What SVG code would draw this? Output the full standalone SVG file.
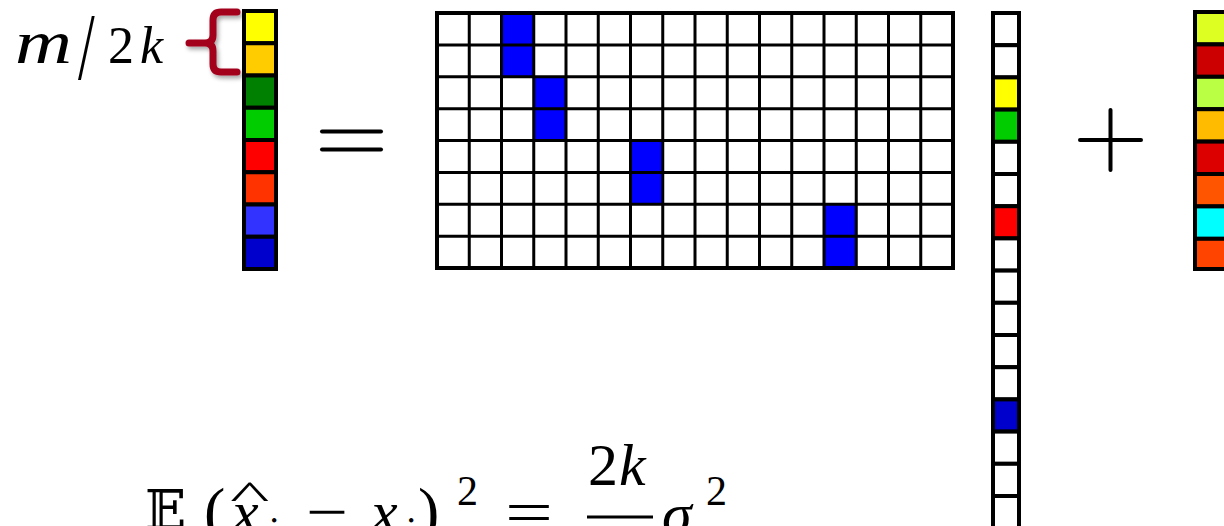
<svg xmlns="http://www.w3.org/2000/svg" width="1224" height="526" viewBox="0 0 1224 526">
<defs>
<style>
.c{stroke:#000;stroke-width:4}
.op{stroke:#000;stroke-width:4;stroke-linecap:round;fill:none}
</style>
<filter id="sh" x="-30%" y="-30%" width="160%" height="160%">
<feDropShadow dx="2" dy="3" stdDeviation="2" flood-color="#000" flood-opacity="0.35"/>
</filter>
</defs>
<rect width="1224" height="526" fill="#fff"/>

<g id="label-m2k" font-family="'Liberation Serif', 'Times New Roman', serif" fill="#000">
<text x="15" y="63" font-size="62" font-style="italic" textLength="57" lengthAdjust="spacingAndGlyphs">m</text>
<text x="0" y="0" font-size="60" transform="translate(78 79) scale(1 1.6)">/</text>
<text x="108" y="63" font-size="52">2</text>
<text x="140" y="63" font-size="52" font-style="italic">k</text>
</g>

<g id="brace" filter="url(#sh)">
<path d="M237,12 L221,12 Q213,12 213,20 L213,35 Q213,43 205,43 L189,43 M205,43 Q213,43 213,51 L213,64 Q213,72 221,72 L237,72" fill="none" stroke="#A3001F" stroke-width="7" stroke-linecap="round" stroke-linejoin="round"/>
</g>

<g id="vector-y">
<rect class="c" x="244" y="11" width="32" height="32.25" fill="#FFFF00"/>
<rect class="c" x="244" y="43.25" width="32" height="32.25" fill="#FFCC00"/>
<rect class="c" x="244" y="75.5" width="32" height="32.25" fill="#008000"/>
<rect class="c" x="244" y="107.75" width="32" height="32.25" fill="#00CC00"/>
<rect class="c" x="244" y="140" width="32" height="32.25" fill="#FF0000"/>
<rect class="c" x="244" y="172.25" width="32" height="32.25" fill="#FF3300"/>
<rect class="c" x="244" y="204.5" width="32" height="32.25" fill="#3333FF"/>
<rect class="c" x="244" y="236.75" width="32" height="32.25" fill="#0000CC"/>
</g>

<g id="equals-sign">
<line class="op" x1="322" y1="131.5" x2="381" y2="131.5"/>
<line class="op" x1="322" y1="149.5" x2="381" y2="149.5"/>
</g>

<g id="matrix-A">
<rect x="437" y="13" width="516" height="255" fill="#fff"/>
<g fill="#0000FF">
<rect x="501.5" y="13" width="32.25" height="31.875"/>
<rect x="501.5" y="44.875" width="32.25" height="31.875"/>
<rect x="533.75" y="76.75" width="32.25" height="31.875"/>
<rect x="533.75" y="108.625" width="32.25" height="31.875"/>
<rect x="630.5" y="140.5" width="32.25" height="31.875"/>
<rect x="630.5" y="172.375" width="32.25" height="31.875"/>
<rect x="824" y="204.25" width="32.25" height="31.875"/>
<rect x="824" y="236.125" width="32.25" height="31.875"/>
</g>
<path fill="none" stroke="#000" stroke-width="3" d="M469.25,13V268 M501.5,13V268 M533.75,13V268 M566,13V268 M598.25,13V268 M630.5,13V268 M662.75,13V268 M695,13V268 M727.25,13V268 M759.5,13V268 M791.75,13V268 M824,13V268 M856.25,13V268 M888.5,13V268 M920.75,13V268 M437,44.875H953 M437,76.75H953 M437,108.625H953 M437,140.5H953 M437,172.375H953 M437,204.25H953 M437,236.125H953"/>
<rect x="437" y="13" width="516" height="255" fill="none" stroke="#000" stroke-width="4"/>
</g>

<g id="vector-x">
<rect class="c" x="993" y="13" width="26" height="32.2" fill="#fff"/>
<rect class="c" x="993" y="45.2" width="26" height="32.2" fill="#fff"/>
<rect class="c" x="993" y="77.4" width="26" height="32.2" fill="#FFFF00"/>
<rect class="c" x="993" y="109.6" width="26" height="32.2" fill="#00CC00"/>
<rect class="c" x="993" y="141.8" width="26" height="32.2" fill="#fff"/>
<rect class="c" x="993" y="174" width="26" height="32.2" fill="#fff"/>
<rect class="c" x="993" y="206.2" width="26" height="32.2" fill="#FF0000"/>
<rect class="c" x="993" y="238.4" width="26" height="32.2" fill="#fff"/>
<rect class="c" x="993" y="270.6" width="26" height="32.2" fill="#fff"/>
<rect class="c" x="993" y="302.8" width="26" height="32.2" fill="#fff"/>
<rect class="c" x="993" y="335" width="26" height="32.2" fill="#fff"/>
<rect class="c" x="993" y="367.2" width="26" height="32.2" fill="#fff"/>
<rect class="c" x="993" y="399.4" width="26" height="32.2" fill="#0000CC"/>
<rect class="c" x="993" y="431.6" width="26" height="32.2" fill="#fff"/>
<rect class="c" x="993" y="463.8" width="26" height="32.2" fill="#fff"/>
<rect class="c" x="993" y="496" width="26" height="32.2" fill="#fff"/>
</g>

<g id="plus-sign">
<line class="op" x1="1080" y1="140" x2="1141" y2="140"/>
<line class="op" x1="1110.5" y1="110" x2="1110.5" y2="170"/>
</g>

<g id="vector-noise">
<rect class="c" x="1195" y="12" width="34" height="32.4" fill="#DDFF22"/>
<rect class="c" x="1195" y="44.4" width="34" height="32.4" fill="#CC0000"/>
<rect class="c" x="1195" y="76.8" width="34" height="32.4" fill="#BBFF44"/>
<rect class="c" x="1195" y="109.2" width="34" height="32.4" fill="#FFBB00"/>
<rect class="c" x="1195" y="141.6" width="34" height="32.4" fill="#DD0000"/>
<rect class="c" x="1195" y="174" width="34" height="32.4" fill="#FF5500"/>
<rect class="c" x="1195" y="206.4" width="34" height="32.4" fill="#00FFFF"/>
<rect class="c" x="1195" y="238.8" width="34" height="30.2" fill="#FF4400"/>
</g>

<g id="formula" font-family="'Liberation Serif', 'Times New Roman', serif" fill="#000">
<text x="145" y="529" font-family="'DejaVu Serif', 'DejaVu Sans', serif" font-size="54">𝔼</text>
<text x="204" y="532" font-size="64">(</text>
<text x="0" y="53" font-size="80" transform="translate(230 482) scale(1.05 0.5)">^</text>
<text x="232" y="532" font-size="60" font-style="italic">x</text>
<text x="266" y="546" font-size="42" font-style="italic">i</text>
<text x="306" y="532" font-size="60" textLength="42" lengthAdjust="spacingAndGlyphs">−</text>
<text x="371" y="532" font-size="60" font-style="italic">x</text>
<text x="403" y="546" font-size="42" font-style="italic">i</text>
<text x="418" y="532" font-size="64">)</text>
<text x="457" y="505" font-size="42">2</text>
<text x="505" y="532" font-size="60" textLength="48" lengthAdjust="spacingAndGlyphs">=</text>
<text x="588" y="485" font-size="60">2</text>
<text x="619" y="485" font-size="60" font-style="italic">k</text>
<line x1="587" y1="517" x2="653" y2="517" stroke="#000" stroke-width="3"/>
<text x="662" y="534" font-size="60" font-style="italic">σ</text>
<text x="706" y="505" font-size="42">2</text>
</g>
</svg>
